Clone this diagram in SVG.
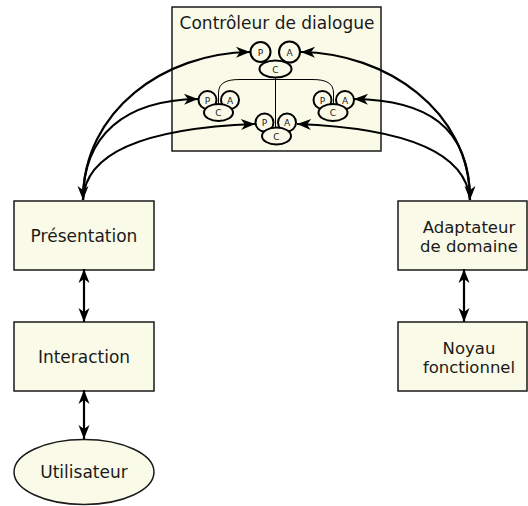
<svg xmlns="http://www.w3.org/2000/svg" width="528" height="506" viewBox="0 0 528 506">
<style>
.box{fill:#fafae8;stroke:#1a1a1a;stroke-width:1.5}
.pac{fill:#fafae8;stroke:#000;stroke-width:2}
.lbl{font-family:"DejaVu Sans",sans-serif;font-size:17px;fill:#1a1a1a;text-anchor:middle}
.two{font-size:16.5px}
.sm{font-family:"DejaVu Sans",sans-serif;font-size:9px;fill:#1a1a1a;text-anchor:middle}
.arr{fill:none;stroke:#000;stroke-width:2.2}
.thin{fill:none;stroke:#000;stroke-width:1}
</style>
<defs>
<marker id="ah" viewBox="-15 -7 16 14" refX="0" refY="0" markerWidth="16" markerHeight="14" markerUnits="userSpaceOnUse" orient="auto">
<path d="M0,0 L-14,-5.5 L-10,0 L-14,5.5 Z" fill="#000"/>
</marker>
<marker id="as" viewBox="-15 -7 16 14" refX="0" refY="0" markerWidth="16" markerHeight="14" markerUnits="userSpaceOnUse" orient="auto-start-reverse">
<path d="M0,0 L-14,-5.5 L-10,0 L-14,5.5 Z" fill="#000"/>
</marker>
</defs>

<g id="controleur">
<rect class="box" x="172" y="7" width="209" height="144"/>
<text class="lbl" x="277" y="29">Contrôleur de dialogue</text>
</g>

<g id="pac-top">
<circle class="pac" cx="260.5" cy="52" r="10"/>
<circle class="pac" cx="289.5" cy="52" r="10.5"/>
<ellipse class="pac" cx="275.5" cy="69" rx="16" ry="8.5"/>
<text class="sm" x="260.5" y="55.5">P</text>
<text class="sm" x="289.5" y="55.5">A</text>
<text class="sm" x="275.5" y="72.5">C</text>
</g>
<g id="pac-left">
<circle class="pac" cx="207.5" cy="100" r="9"/>
<circle class="pac" cx="230" cy="100" r="9"/>
<ellipse class="pac" cx="218.5" cy="112.5" rx="14.5" ry="8.5"/>
<text class="sm" x="207.5" y="103.5">P</text>
<text class="sm" x="230" y="103.5">A</text>
<text class="sm" x="218.5" y="116">C</text>
</g>
<g id="pac-right">
<circle class="pac" cx="322.5" cy="100" r="9"/>
<circle class="pac" cx="345" cy="100" r="9"/>
<ellipse class="pac" cx="333" cy="112.5" rx="14.5" ry="8.5"/>
<text class="sm" x="322.5" y="103.5">P</text>
<text class="sm" x="345" y="103.5">A</text>
<text class="sm" x="333" y="116">C</text>
</g>
<g id="pac-bottom">
<circle class="pac" cx="264.5" cy="122.5" r="9"/>
<circle class="pac" cx="287" cy="122.5" r="9"/>
<ellipse class="pac" cx="276.5" cy="136" rx="14.5" ry="8.5"/>
<text class="sm" x="264.5" y="126">P</text>
<text class="sm" x="287" y="126">A</text>
<text class="sm" x="276.5" y="139.5">C</text>
</g>

<g id="presentation">
<rect class="box" x="14" y="201" width="140" height="69"/>
<text class="lbl" x="84" y="242">Présentation</text>
</g>
<g id="interaction">
<rect class="box" x="14" y="322" width="140" height="69"/>
<text class="lbl" x="84" y="362.5">Interaction</text>
</g>
<g id="utilisateur">
<ellipse class="box" cx="84" cy="472" rx="70" ry="32.5"/>
<text class="lbl" x="84" y="478">Utilisateur</text>
</g>
<g id="adaptateur">
<rect class="box" x="398" y="201" width="129" height="69"/>
<text class="lbl two" x="469" y="232.5">Adaptateur</text>
<text class="lbl two" x="469" y="252">de domaine</text>
</g>
<g id="noyau">
<rect class="box" x="398" y="322" width="129" height="69"/>
<text class="lbl two" x="469" y="353.5">Noyau</text>
<text class="lbl two" x="469" y="373">fonctionnel</text>
</g>

<g id="connectors">
<path class="thin" d="M275.5,77.5 L275.5,128"/>
<path class="thin" d="M218.5,104 L218.5,93 C218.5,83 226,79.5 240,79.5 L312,79.5 C326,79.5 333.5,83 333.5,93 L333.5,104"/>
<path class="arr" d="M83,200 C83,110 165,53 250,52" marker-start="url(#as)" marker-end="url(#ah)"/>
<path class="arr" d="M83,200 C83,135 125,100 198,99" marker-end="url(#ah)"/>
<path class="arr" d="M83,200 C85,150 150,128 255,124" marker-end="url(#ah)"/>
<path class="arr" d="M470,200 C470,110 385,53 301,52" marker-start="url(#as)" marker-end="url(#ah)"/>
<path class="arr" d="M470,200 C470,125 425,100 354,99" marker-end="url(#ah)"/>
<path class="arr" d="M470,200 C466,150 400,128 297,124" marker-end="url(#ah)"/>
<path class="arr" d="M84,269 L84,322" marker-start="url(#as)" marker-end="url(#ah)"/>
<path class="arr" d="M84,390 L84,439" marker-start="url(#as)" marker-end="url(#ah)"/>
<path class="arr" d="M464,269 L464,322" marker-start="url(#as)" marker-end="url(#ah)"/>
</g>
</svg>
